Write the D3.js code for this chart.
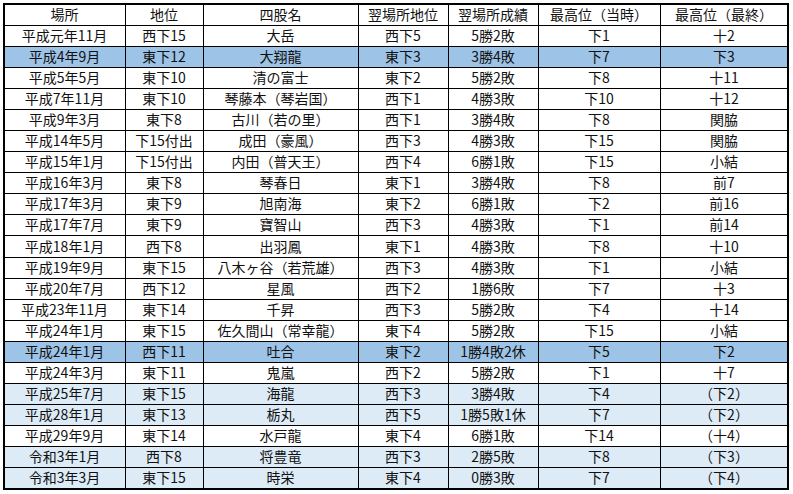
<!DOCTYPE html><html><head><meta charset="utf-8"><script src="https://d3js.org/d3.v7.min.js"></script>
<style>body{margin:0;background:#fff}</style></head><body><svg id="c" width="793" height="494"></svg>
<script>
const headers=["場所","地位","四股名","翌場所地位","翌場所成績","最高位（当時）","最高位（最終）"];
const basho=["平成元年11月","平成4年9月","平成5年5月","平成7年11月","平成9年3月","平成14年5月","平成15年1月","平成16年3月","平成17年3月","平成17年7月","平成18年1月","平成19年9月","平成20年7月","平成23年11月","平成24年1月","平成24年1月","平成24年3月","平成25年7月","平成28年1月","平成29年9月","令和3年1月","令和3年3月"];
const rank=["西下15","東下12","東下10","東下10","東下8","下15付出","下15付出","東下8","東下9","東下9","西下8","東下15","西下12","東下14","東下15","西下11","東下11","東下15","東下13","東下14","西下8","東下15"];
const names=["大岳","大翔龍","清の富士","琴藤本（琴岩国）","古川（若の里）","成田（豪風）","内田（普天王）","琴春日","旭南海","寶智山","出羽鳳","八木ヶ谷（若荒雄）","星風","千昇","佐久間山（常幸龍）","吐合","鬼嵐","海龍","栃丸","水戸龍","将豊竜","時栄"];
const nextRank=["西下5","東下3","東下2","西下1","西下1","西下3","西下4","東下1","東下2","西下3","東下1","西下3","西下2","西下3","東下4","東下2","西下2","西下3","西下5","東下4","西下3","東下4"];
const nextRec=["5勝2敗","3勝4敗","5勝2敗","4勝3敗","3勝4敗","4勝3敗","6勝1敗","3勝4敗","6勝1敗","4勝3敗","4勝3敗","4勝3敗","1勝6敗","5勝2敗","5勝2敗","1勝4敗2休","5勝2敗","3勝4敗","1勝5敗1休","6勝1敗","2勝5敗","0勝3敗"];
const highThen=["下1","下7","下8","下10","下8","下15","下15","下8","下2","下1","下8","下1","下7","下4","下15","下5","下1","下4","下7","下14","下8","下7"];
const highFinal=["十2","下3","十11","十12","関脇","関脇","小結","前7","前16","前14","十10","小結","十3","十14","小結","下2","十7","（下2）","（下2）","（十4）","（下3）","（下4）"];
const rowFill=["w","d","w","w","w","w","w","w","w","w","w","w","w","w","w","d","w","l","l","w","l","l"];
const fills={w:"#ffffff",d:"#9dc3e6",l:"#ddebf7"};
const colEdges=[4,125,203,358,448,538,660,788];
const rows=basho.map((b,i)=>({cells:[b,rank[i],names[i],nextRank[i],nextRec[i],highThen[i],highFinal[i]],fill:fills[rowFill[i]]}));
const all=[{cells:headers,fill:"#fff"}].concat(rows);
const y=d3.scaleBand().domain(d3.range(all.length)).range([4,489]);
const svg=d3.select("#c");
const g=svg.selectAll("g.r").data(all).join("g").attr("class","r").attr("transform",(d,i)=>`translate(0,${y(i)})`);
g.append("rect").attr("x",colEdges[0]).attr("width",colEdges[7]-colEdges[0]).attr("height",y.bandwidth()).attr("fill",d=>d.fill);
g.selectAll("text").data(d=>d.cells).join("text")
 .attr("x",(d,j)=>(colEdges[j]+colEdges[j+1])/2).attr("y",y.bandwidth()/2+5)
 .attr("text-anchor","middle").attr("font-family","'Noto Sans CJK JP'").attr("font-size",14).attr("fill","#111").text(d=>d);
// grid
const h=svg.append("g").attr("stroke","#000").attr("stroke-width",1).attr("shape-rendering","crispEdges");
d3.range(1,all.length).forEach(i=>h.append("line").attr("x1",colEdges[0]).attr("x2",colEdges[7]).attr("y1",y(i)).attr("y2",y(i)));
colEdges.slice(1,7).forEach(x=>h.append("line").attr("x1",x).attr("x2",x).attr("y1",4).attr("y2",489));
svg.append("rect").attr("x",colEdges[0]).attr("y",4).attr("width",colEdges[7]-colEdges[0]).attr("height",485).attr("fill","none").attr("stroke","#000").attr("stroke-width",2);
</script></body></html>
